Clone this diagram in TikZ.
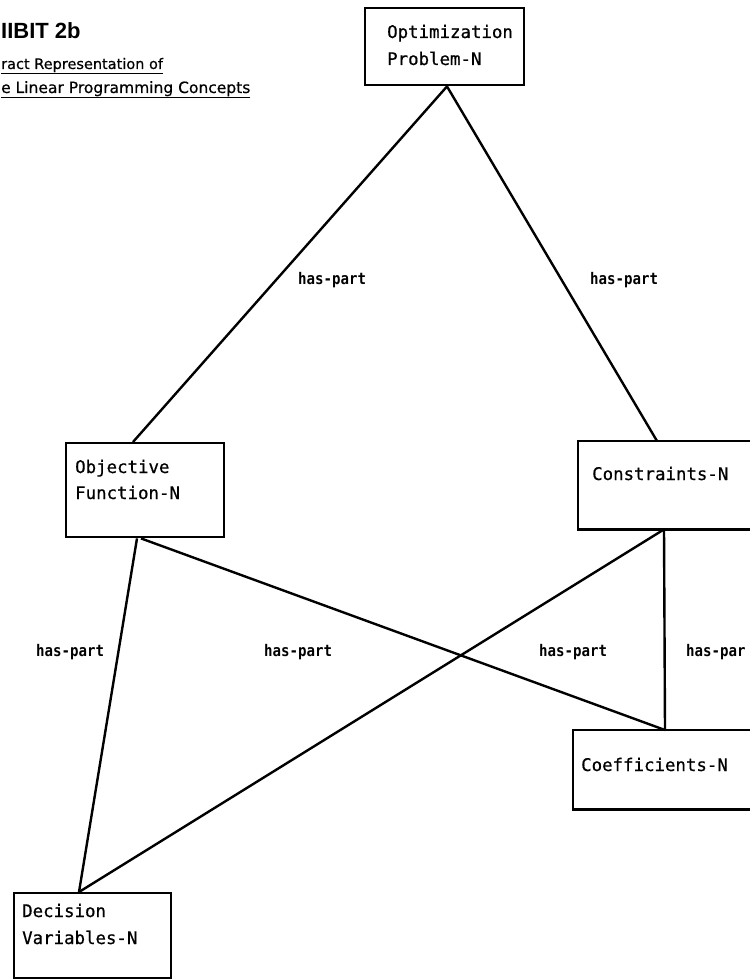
\documentclass[tikz,border=0pt]{standalone}
\usepackage{fontspec}
\setmainfont{DejaVu Sans}
\setmonofont{DejaVu Sans Mono}
\newfontfamily\titlefont{Liberation Sans}
\newfontfamily\boxfont[FakeBold=0.6]{DejaVu Sans Mono}
\newfontfamily\relfont[FakeStretch=0.88]{DejaVu Sans Mono Bold}
\newfontfamily\subfont[FakeBold=0.5]{DejaVu Sans}
\usetikzlibrary{calc}
\tikzset{
  box/.style={draw, line width=2.4pt, rectangle, inner sep=0pt, anchor=north west},
  boxtext/.style={inner sep=0pt, anchor=base west, font=\boxfont\fontsize{17.4}{20}\selectfont},
  rel/.style={inner sep=0pt, anchor=base west, font=\relfont\fontsize{16}{18}\selectfont},
  conn/.style={line width=2.4pt},
}
\begin{document}
\begin{tikzpicture}[x=1pt,y=-1pt]
\useasboundingbox (0,0) rectangle (749,979);
\fill[white] (0,0) rectangle (749,979);
% title
\node (title) [inner sep=0pt, anchor=base west, font=\titlefont\bfseries\fontsize{22}{24}\selectfont] at (1,39) {IIBIT 2b};
\node (sub1) [inner sep=0pt, anchor=base west, font=\subfont\fontsize{14.5}{16}\selectfont] at (1,69) {\underline{ract Representation of}};
\node (sub2) [inner sep=0pt, anchor=base west, font=\subfont\fontsize{15.5}{17}\selectfont] at (1,93) {\underline{e Linear Programming Concepts}};
% boxes (right-hand boxes run to the picture edge)
\node (opt) [box, minimum width=159pt, minimum height=77pt] at (364,7) {};
\node (obj) [box, minimum width=158pt, minimum height=94pt] at (65,442) {};
\node (dec) [box, minimum width=157pt, minimum height=85pt] at (13,892) {};
\node (con) [inner sep=0pt, anchor=north west, minimum width=180pt, minimum height=88pt] at (578,441) {};
\node (coe) [inner sep=0pt, anchor=north west, minimum width=185pt, minimum height=79pt] at (573,730) {};
\draw[line width=2.4pt] (con.north east) -- (con.north west) -- (con.south west) -- (con.south east);
\draw[line width=2.4pt] (coe.north east) -- (coe.north west) -- (coe.south west) -- (coe.south east);
% box texts
\node (optA) [boxtext] at (387,38) {Optimization};
\node (optB) [boxtext] at (387,65) {Problem-N};
\node (objA) [boxtext] at (75,473) {Objective};
\node (objB) [boxtext] at (75,499) {Function-N};
\node (conA) [boxtext] at (592,480) {Constraints-N};
\node (coeA) [boxtext] at (581,771) {Coefficients-N};
\node (decA) [boxtext] at (22,917) {Decision};
\node (decB) [boxtext] at (22,944) {Variables-N};
% attachment points
\coordinate (optB0) at ($(opt.south west)+(83,0)$);
\coordinate (objT) at ($(obj.north west)+(68,0)$);
\coordinate (conT) at ($(con.north west)+(79,0)$);
\coordinate (objB1) at ($(obj.south west)+(72,0)$);
\coordinate (objB2) at ($(obj.south west)+(76,0)$);
\coordinate (conB) at ($(con.south west)+(86,0)$);
\coordinate (decT) at ($(dec.north west)+(66,0)$);
\coordinate (coeT) at ($(coe.north west)+(92,0)$);
% connectors
\draw[conn] (optB0) -- (objT);
\draw[conn] (optB0) -- (conT);
\draw[conn] (objB1) -- (decT);
\draw[conn] (objB2) -- (coeT);
\draw[conn] (conB) -- (decT);
\draw[conn] (conB) -- (coeT);
% relation labels
\node (r1) [rel] at (298,284) {has-part};
\node (r2) [rel] at (590,284) {has-part};
\node (r3) [rel] at (36,656) {has-part};
\node (r4) [rel] at (264,656) {has-part};
\node (r5) [rel] at (539,656) {has-part};
\node (r6) [rel] at (686,656) {has-par};
\end{tikzpicture}
\end{document}
